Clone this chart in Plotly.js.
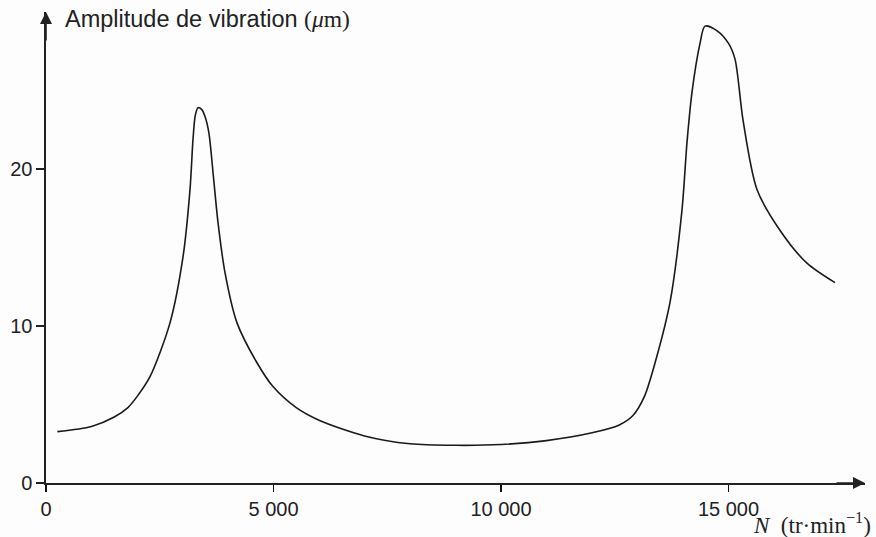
<!DOCTYPE html>
<html>
<head>
<meta charset="utf-8">
<script src="https://cdn.plot.ly/plotly-3.0.1.min.js"></script>
<style>html,body{margin:0;padding:0;background:#fdfdfd;}#chart{width:876px;height:537px;}</style>
</head>
<body>
<div id="chart"></div>
<script>
// Speed N (tr/min) and vibration amplitude (µm)
const speedN = [250, 1000, 1500, 1800, 2000, 2286, 2725, 3011, 3165, 3231, 3280, 3340, 3420, 3500, 3580, 3680, 3780, 3934, 4198, 4637, 4989, 5500, 6000, 7000, 8000, 9000, 10000, 11000, 12000, 12600, 12900, 13150, 13400, 13714, 13978, 14088, 14198, 14374, 14484, 14750, 15000, 15143, 15320, 15626, 16130, 16725, 17340];
const amplitude = [3.27, 3.6, 4.2, 4.8, 5.5, 6.77, 10.2, 14.4, 18.7, 21.9, 23.4, 23.9, 23.8, 23.3, 22.3, 19.5, 16.6, 13.4, 10.2, 7.66, 6.14, 4.8, 4.0, 3.0, 2.5, 2.4, 2.45, 2.7, 3.2, 3.7, 4.3, 5.5, 7.8, 11.5, 17.4, 21.7, 24.9, 28.0, 29.1, 28.8, 28.0, 27.0, 23.1, 18.7, 16.1, 14.0, 12.76];
const xTickVals = [0, 5000, 10000, 15000];
const xTickText = ["0", "5 000", "10 000", "15 000"];
const yTickVals = [0, 10, 20];
const yTickText = ["0", "10", "20"];
const yTitle = 'Amplitude de vibration <span style="font-family:\'Liberation Serif\'">(<i>μ</i>m)</span>';
const xTitle = '<i>N</i>  (tr·min<sup>−1</sup>)';

const axisColor = '#222';
const tickFont = {family: 'Liberation Sans', size: 20, color: '#222'};
const trace = {
  x: speedN, y: amplitude, type: 'scatter', mode: 'lines',
  line: {color: '#1a1a1a', width: 1.6, shape: 'spline', smoothing: 0.8},
  hoverinfo: 'skip'
};
const layout = {
  width: 876, height: 537,
  margin: {l: 46, r: 11, t: 12, b: 54},
  paper_bgcolor: '#fdfdfd', plot_bgcolor: '#fdfdfd',
  showlegend: false,
  font: {family: 'Liberation Sans', color: '#222', size: 20},
  xaxis: {
    range: [0, 18000], showgrid: false, zeroline: false,
    showline: true, linecolor: axisColor, linewidth: 1.6,
    tickmode: 'array', tickvals: xTickVals, ticktext: xTickText,
    ticks: 'outside', ticklen: 7, tickwidth: 1.4, tickcolor: '#111',
    tickfont: tickFont, fixedrange: true
  },
  yaxis: {
    range: [0, 30], showgrid: false, zeroline: false,
    showline: true, linecolor: axisColor, linewidth: 1.6,
    tickmode: 'array', tickvals: yTickVals, ticktext: yTickText,
    ticks: 'outside', ticklen: 8, tickwidth: 1.3, tickcolor: axisColor,
    ticklabelstandoff: 0,
    tickfont: tickFont, fixedrange: true
  },
  annotations: [
    {xref: 'paper', yref: 'paper', x: 1, y: 0, ax: -30, ay: 0,
     showarrow: true, arrowhead: 2, arrowsize: 1.5, arrowwidth: 1.6, arrowcolor: axisColor, text: ''},
    {xref: 'paper', yref: 'paper', x: 0, y: 1, ax: 0, ay: 30,
     showarrow: true, arrowhead: 2, arrowsize: 1.5, arrowwidth: 1.6, arrowcolor: axisColor, text: ''},
    {xref: 'paper', yref: 'paper', x: 0.021, y: 0.985, xanchor: 'left', yanchor: 'middle',
     showarrow: false, text: yTitle, font: {family: 'Liberation Sans', size: 23.5, color: '#222'}},
    {xref: 'paper', yref: 'paper', x: 1.0098, y: -0.121, xanchor: 'right', yanchor: 'bottom',
     showarrow: false, text: xTitle, font: {family: 'Liberation Serif', size: 23, color: '#222'}}
  ]
};
Plotly.newPlot('chart', [trace], layout, {displayModeBar: false, staticPlot: true});
</script>
</body>
</html>
